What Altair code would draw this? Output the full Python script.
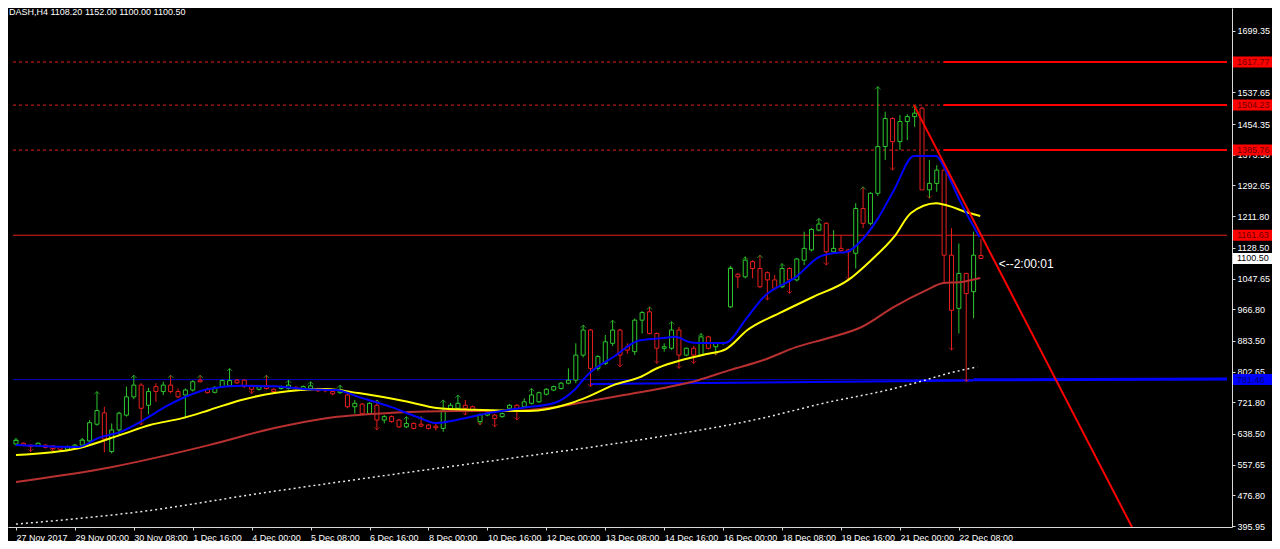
import altair as alt
import pandas as pd

# ---------------- data ----------------
idx = list(range(132))
opens = [612,614,609,607,609,607,605,598,603,609, 620,664,694,592,649,688,736,767,714,763,
         750,767,750,741,754,780,756,748,763,765, 780,780,765,756,765,756,758,758,761,757,
         758,757,756,750,747,741,710,717,692,714, 675,684,675,657,666,664,662,659,653,701,
         706,714,710,671,688,688,684,706,714,710, 719,723,743,754,758,772,780,846,912,811,
         824,877,912,868,855,938,960,903,864,864, 912,846,864,846,894,868,877,973,1059,1052,
         1092,1074,1063,1044,1026,1074,1044,1096,1123,1175, 1193,1118,1127,1123,1114,1232,1193,1272,1395,1469,
         1408,1461,1474,1496,1281,1298,1333,1109,969,1061, 1013,1108.2]
highs = [627,616,611,616,611,609,607,608,612,627, 675,750,710,666,697,763,793,772,760,772,
         776,793,758,758,780,793,760,764,782,811, 783,782,768,766,793,759,766,780,764,766,
         776,760,758,755,767,745,728,720,722,728, 688,687,678,684,669,684,665,666,728,720,
         741,728,713,692,694,691,695,717,717,732, 758,750,759,766,775,811,877,925,915,846,
         899,938,915,877,942,962,973,906,877,934, 920,866,870,903,897,880,881,1080,1062,1105,
         1096,1109,1066,1057,1087,1077,1102,1171,1180,1206, 1196,1175,1162,1126,1246,1289,1275,1553,1487,1472,
         1478,1480,1504,1500,1360,1346,1350,1180,1140,1063, 1171,1152]
lows = [608,606,592,604,600,592,595,596,600,606, 613,660,590,587,635,684,730,662,690,723,
        741,745,733,679,750,774,745,745,760,762, 770,760,745,753,755,747,755,755,755,754,
        755,749,748,740,744,706,692,689,688,649, 666,668,654,654,650,656,650,647,644,698,
        703,688,698,662,685,657,681,703,675,707, 716,720,740,751,755,769,772,840,763,805,
        820,870,815,850,846,903,900,824,855,860, 811,843,824,843,861,846,873,970,1022,1048,
        1048,1022,991,1017,1022,1008,1040,1083,1119,1172, 1083,1114,1118,1044,1074,1180,1188,1265,1360,1333,
        1386,1412,1447,1281,1259,1276,1035,859,903,776, 943,1100]
closes = [621,609,605,614,603,600,598,605,609,622, 668,700,625,649,693,736,767,706,750,750,
          767,750,736,754,776,776,747,761,779,779, 773,763,756,763,758,750,763,767,758,763,
          765,752,752,744,755,710,719,692,719,675, 684,671,657,666,653,659,653,655,701,714,
          719,706,701,688,692,679,692,714,706,723, 741,747,756,763,772,780,846,912,811,842,
          881,912,846,859,938,958,903,864,868,912, 846,864,846,894,864,877,879,1074,1052,1096,
          1074,1026,1044,1022,1074,1044,1099,1127,1177,1191, 1118,1127,1121,1118,1232,1193,1272,1395,1469,1408,
          1461,1474,1483,1281,1298,1333,1109,964,1061,1008, 1109,1100.5]

up_arrows = [0,9,11,16,21,25,29,34,37,40,44,49,53,55,58,60,70,77,81,86,89,93,97,99,101,104,109,115,117,122]
down_arrows = [2,5,17,32,49,61,63,65,68,78,82,87,90,92,95,102,105,110,113,119,124,127,129]

blue_i = [0,8.5,11.2,14.2,17.3,20.5,23.1,26.2,30.6,35.1,39.5,43.5,46.5,51,54.5,57.1,59.8,64.3,68.7,73.1,
          75.8,77.6,81.1,84.7,88,89.5,91.5,92.6,96.2,99.3,101.5,105.9,109,111.2,112.6,115.2,116.9,119.2,121.9,124.9,
          126.2,128.1,130.8]
blue_p = [609,604,628,644,675,712,737,757,765,764,756,754,736,709,683,667,675,694,707,720,
          754,794,841,885,891,894,880,878,878,946,999,1052,1104,1115,1117,1157,1202,1281,1370,1370,
          1333,1254,1157]
yellow_i = [0,8.5,14.2,18.2,22.6,26.2,30.6,35.1,42.1,46.5,53.2,57.1,62.1,69.6,75.4,77.6,81.1,84.7,87.1,90.4,
            93.6,96.4,99.3,103.7,108.2,113,116.1,119.2,121.5,124.9,126.2,129.4,130.9]
yellow_p = [583,601,636,662,680,701,728,746,757,746,723,707,702,699,720,736,767,788,812,833,
            848,862,912,957,999,1044,1096,1157,1220,1246,1241,1220,1212]
red_ma_i = [0,12.9,26.2,35.1,42.1,51,59.8,67.4,73.1,79.3,84.7,92.6,97,101.5,105.9,110.3,114.8,119.2,123.6,125.9,128.1,130.9]
red_ma_p = [512,551,609,654,680,694,699,699,709,730,748,780,807,833,867,891,920,973,1017,1036,1038,1049]
white_i = [0,16.6,33.5,50.5,67.4,84.4,101.3,109.8,118.3,122.5,126.8,130.5]
white_p = [401,433,483,530,575,622,680,720,754,775,799,815]

trend_i = [121.9, 151.5]
trend_p = [1504.2, 393.4]
thin_blue_i = [78, 130]
thin_blue_p = [770, 779]
thick_i = [130, 164.4]
thick_p = [781, 783]

red_levels = [1617.77, 1504.23, 1385.76]
level_red = 1161.63
level_blue = 781.46

box_vals = [1617.77, 1504.23, 1385.76, 1161.63, 1100.50, 781.46]
box_bg = ["#ff0000", "#ff0000", "#ff0000", "#ff0000", "#ffffff", "#0000ff"]
box_fg = ["#6e0000", "#6e0000", "#6e0000", "#6e0000", "#000000", "#00006e"]

y_ticks = [1699.35, 1618.50, 1537.65, 1454.35, 1373.50, 1292.65, 1211.80, 1128.50, 1047.65,
           966.80, 883.50, 802.65, 721.80, 638.50, 557.65, 476.80, 395.95]
x_tick_labels = ["27 Nov 2017", "29 Nov 00:00", "30 Nov 08:00", "1 Dec 16:00", "4 Dec 00:00",
                 "5 Dec 08:00", "6 Dec 16:00", "8 Dec 00:00", "10 Dec 16:00", "12 Dec 00:00",
                 "13 Dec 08:00", "14 Dec 16:00", "16 Dec 00:00", "18 Dec 08:00", "19 Dec 16:00",
                 "21 Dec 00:00", "22 Dec 08:00"]
countdown = "<--2:00:01"
symbol = "DASH,H4"

# ---------------- styling ----------------
GREEN = "#2ec82e"
RED = "#e81e1e"
FONT = "Liberation Sans"
AXC = "#d8d8d8"
X0, X1 = -0.4, 164.4
Y0, Y1 = 393.4, 1759.9
W, H = 1224, 519

xs = alt.Scale(domain=[X0, X1], nice=False, zero=False)
ys = alt.Scale(domain=[Y0, Y1], nice=False, zero=False)
label_expr = "[" + ",".join("'" + s + "'" for s in x_tick_labels) + "][round(datum.value/8)]"
xaxis = alt.Axis(values=[8 * k for k in range(len(x_tick_labels))], labelExpr=label_expr, title=None,
                 grid=False, domainColor=AXC, tickColor=AXC, labelColor="#ffffff", labelFont=FONT,
                 labelFontSize=9, labelAlign="left", tickSize=3, labelPadding=3, labelFlush=False,
                 labelOverlap=False)
yaxis = alt.Axis(orient="right", values=y_ticks, format=".2f", title=None, grid=False,
                 domainColor=AXC, tickColor=AXC, labelColor="#ffffff", labelFont=FONT,
                 labelFontSize=9, tickSize=3, labelPadding=2, labelFlush=False, labelOverlap=False)


def X(f):
    return alt.X(f, type="quantitative", scale=xs, axis=xaxis)


def Y(f):
    return alt.Y(f, type="quantitative", scale=ys, axis=yaxis)


cdf = pd.DataFrame({"i": idx, "o": opens, "h": highs, "l": lows, "c": closes})
cdf["dir"] = ["up" if c >= o else "down" for o, c in zip(opens, closes)]
dscale = alt.Scale(domain=["up", "down"], range=[GREEN, RED])

updf = pd.DataFrame({"i": up_arrows, "p": [highs[k] for k in up_arrows]})
dndf = pd.DataFrame({"i": down_arrows, "p": [lows[k] for k in down_arrows]})

# horizontal levels
dash_df = pd.DataFrame({"x0": [X0] * 3, "x1": [125.9] * 3, "p": red_levels})
solid_df = pd.DataFrame({"x0": [125.9] * 3, "x1": [X1] * 3, "p": red_levels})
hl_df = pd.DataFrame({"x0": [X0, X0], "x1": [X1, X1], "p": [level_red, level_blue],
                      "col": [RED, "#0000c8"]})

hl = alt.Chart(hl_df).mark_rule(strokeWidth=1).encode(
    x=X("x0"), x2="x1", y=Y("p"), color=alt.Color("col:N", scale=None))
dashed = alt.Chart(dash_df).mark_rule(strokeWidth=1, strokeDash=[3, 3], color=RED).encode(
    x=X("x0"), x2="x1", y=Y("p"))
solid = alt.Chart(solid_df).mark_rule(strokeWidth=2, color="#ff0000").encode(
    x=X("x0"), x2="x1", y=Y("p"))
thin_blue = alt.Chart(pd.DataFrame({"i": thin_blue_i, "p": thin_blue_p})).mark_line(
    strokeWidth=2, color="#0000ff", clip=True).encode(x=X("i"), y=Y("p"))
thick = alt.Chart(pd.DataFrame({"i": thick_i, "p": thick_p})).mark_line(
    strokeWidth=3, color="#0000ff", clip=True).encode(x=X("i"), y=Y("p"))

wicks = alt.Chart(cdf).mark_rule(strokeWidth=1).encode(
    x=X("i"), y=Y("l"), y2="h", color=alt.Color("dir:N", scale=dscale, legend=None))
bodies = alt.Chart(cdf).mark_bar(width=4, fill="black", strokeWidth=1).encode(
    x=X("i"), y=Y("o"), y2="c", stroke=alt.Stroke("dir:N", scale=dscale, legend=None))
uparr = alt.Chart(updf).mark_point(shape="M-1,1L0,0L1,1", size=30, filled=False,
                                   strokeWidth=1, color=GREEN).encode(x=X("i"), y=Y("p"))
dnarr = alt.Chart(dndf).mark_point(shape="M-1,-1L0,0L1,-1", size=30, filled=False,
                                   strokeWidth=1, color=RED).encode(x=X("i"), y=Y("p"))


def ma(xi, pv, color, width, dash=None):
    kw = dict(strokeWidth=width, color=color, interpolate="monotone", clip=True)
    if dash:
        kw["strokeDash"] = dash
    return alt.Chart(pd.DataFrame({"i": xi, "p": pv})).mark_line(**kw).encode(x=X("i"), y=Y("p"))


white_ma = ma(white_i, white_p, "#e8e8e8", 1.5, [2, 3])
red_ma = ma(red_ma_i, red_ma_p, "#b83030", 2)
yellow_ma = ma(yellow_i, yellow_p, "#ffff00", 2)
blue_ma = ma(blue_i, blue_p, "#0000ff", 2)
trend = ma(trend_i, trend_p, "#ff0000", 2)

box_df = pd.DataFrame({"p": box_vals, "bg": box_bg, "fg": box_fg,
                       "txt": ["%.2f" % v for v in box_vals]})
box_df["top"] = box_df["p"] + 14.5
box_df["bot"] = box_df["p"] - 14.5
boxes = alt.Chart(box_df).mark_rect().encode(
    x=alt.value(W + 1), x2=alt.value(W + 40), y=Y("top"), y2="bot",
    fill=alt.Fill("bg:N", scale=None))
box_txt = alt.Chart(box_df).mark_text(align="left", baseline="middle", font=FONT, fontSize=9).encode(
    x=alt.value(W + 5), y=Y("p"), text="txt:N", color=alt.Color("fg:N", scale=None))

cd_df = pd.DataFrame({"i": [133.4], "p": [1086], "t": [countdown]})
cd_txt = alt.Chart(cd_df).mark_text(align="left", baseline="middle", font=FONT, fontSize=12,
                                    color="#ffffff").encode(x=X("i"), y=Y("p"), text="t:N")

title_str = "%s  %.2f %.2f %.2f %.2f" % (symbol, opens[-1], highs[-1], lows[-1], closes[-1])
title_txt = alt.Chart(pd.DataFrame({"t": [title_str]})).mark_text(
    align="left", baseline="top", font=FONT, fontSize=9, color="#ffffff").encode(
    x=alt.value(1), y=alt.value(0), text="t:N")

chart = alt.layer(
    hl, dashed, solid, thin_blue, thick, wicks, bodies, uparr, dnarr,
    white_ma, red_ma, yellow_ma, blue_ma, trend, boxes, box_txt, cd_txt, title_txt
).properties(
    width=W, height=H, autosize=alt.AutoSizeParams(type="none"),
    padding={"left": 0, "top": 0, "right": 40, "bottom": 14}
).configure(background="black").configure_view(stroke=None)

chart.save("out.html", embed_options={"renderer": "svg", "actions": False})
